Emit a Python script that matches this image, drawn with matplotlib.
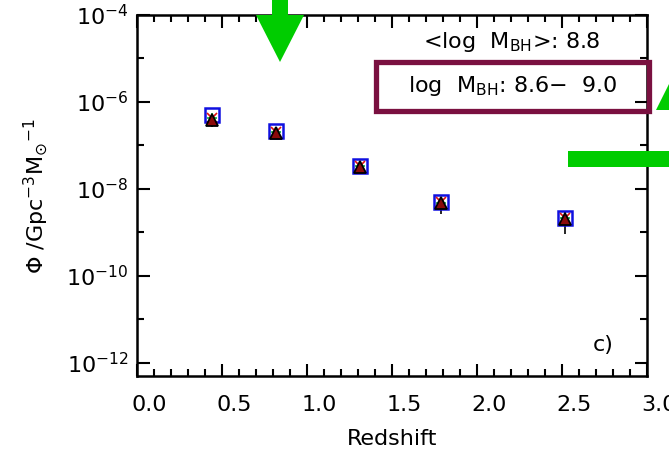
import numpy as np
import matplotlib
matplotlib.use('Agg')
import matplotlib.pyplot as plt
from matplotlib.ticker import LogLocator, LogFormatterMathtext, MultipleLocator, NullFormatter
from matplotlib.patches import Polygon, Rectangle
import matplotlib.transforms as mtransforms

# redshift bin centres and number densities (Gpc^-3 Msun^-1)
redshift = [0.44, 0.82, 1.31, 1.79, 2.52]
phi_square = [5.0e-7, 2.1e-7, 3.4e-8, 5.0e-9, 2.2e-9]
phi_dot = [4.3e-7, 2.0e-7, 3.3e-8, 4.8e-9, 2.1e-9]
phi_cross = [4.2e-7, 2.0e-7, 3.4e-8, 4.9e-9, 2.1e-9]
phi_tri = [3.8e-7, 1.9e-7, 3.2e-8, 4.7e-9, 2.0e-9]
err_lo = [1.2e-7, 4.0e-8, 8.0e-9, 2.0e-9, 1.1e-9]
err_hi = [1.2e-7, 4.0e-8, 8.0e-9, 2.0e-9, 1.1e-9]

mean_text = r'<log  M$_{\rm BH}$>: 8.8'
range_text = r'log  M$_{\rm BH}$: 8.6$-$  9.0'

plt.rcParams['font.family'] = ['DejaVu Sans']
plt.rcParams['mathtext.fontset'] = 'dejavusans'
plt.rcParams['mathtext.default'] = 'regular'

FS = 16

fig = plt.figure(figsize=(6.69, 4.51), dpi=100)
ax = fig.add_axes([137/669, 75/451, 510/669, 361/451])

ax.errorbar(redshift, phi_tri, yerr=[err_lo, err_hi], fmt='none',
            ecolor='black', elinewidth=1.2, capsize=0, zorder=2)
ax.plot(redshift, phi_square, 's', ms=9.5, mfc='none', mec='#1010e0', mew=1.8, zorder=3)
ax.plot(redshift, phi_dot, '+', ms=7, color='#10b040', mew=1.2, zorder=3)
ax.plot(redshift, phi_cross, 'x', ms=7, color='#e01010', mew=1.2, zorder=4)
ax.plot(redshift, phi_tri, '^', ms=8.5, mfc='#8b0a0a', mec='black', mew=1.3, zorder=5)

ax.set_yscale('log')
ax.set_xlim(0, 3.0)
ax.set_ylim(10**-12.3, 1e-4)

ax.xaxis.set_major_locator(MultipleLocator(0.5))
ax.xaxis.set_minor_locator(MultipleLocator(0.1))
ax.yaxis.set_major_locator(LogLocator(base=100.0, numticks=20))
ax.yaxis.set_minor_locator(LogLocator(base=10.0, subs=(1.0,), numticks=20))
ax.yaxis.set_major_formatter(LogFormatterMathtext(base=10))
ax.yaxis.set_minor_formatter(NullFormatter())
ax.xaxis.set_major_formatter(plt.FuncFormatter(lambda v, p: '{:.1f}'.format(v)))

ax.tick_params(which='both', direction='in', top=True, right=True,
               width=1.5, labelsize=FS)
ax.tick_params(which='major', length=9)
ax.tick_params(which='minor', length=5)
ax.tick_params(axis='x', pad=14)
ax.tick_params(axis='y', pad=6)
for lbl in ax.get_xticklabels():
    lbl.set_transform(lbl.get_transform() +
                      mtransforms.ScaledTranslation(0.12, 0, fig.dpi_scale_trans))
for s in ax.spines.values():
    s.set_linewidth(1.8)

ax.set_xlabel('Redshift', fontsize=FS, labelpad=10)
ax.set_ylabel(r'$\Phi$ /Gpc$^{-3}$M$_{\odot}$$^{-1}$', fontsize=FS, labelpad=12)

ax.text(0.735, 0.925, mean_text, transform=ax.transAxes, ha='center',
        va='center', fontsize=FS)
ax.text(0.737, 0.803, range_text, transform=ax.transAxes, ha='center',
        va='center', fontsize=FS)
ax.text(0.915, 0.085, 'c)', transform=ax.transAxes, ha='center',
        va='center', fontsize=FS)

# box round the mass range label, and the green arrows from the figure it was cut from
W, H = 669.0, 451.0
def fx(px):
    return px / W
def fy(py):
    return 1 - py / H

fig.patches.append(Rectangle((fx(375.5), fy(110.5)), fx(649) - fx(375.5),
                             fy(62.5) - fy(110.5), transform=fig.transFigure,
                             fill=False, ec='#7a1040', lw=3.8, zorder=10))
green = '#00cc00'
fig.patches.append(Polygon([(fx(272), fy(0)), (fx(288), fy(0)), (fx(288), fy(15)),
                            (fx(304), fy(15)), (fx(280), fy(62)), (fx(256), fy(15)),
                            (fx(272), fy(15))], closed=True, transform=fig.transFigure,
                           fc=green, ec='none', zorder=10))
fig.patches.append(Polygon([(fx(656), fy(110)), (fx(669), fy(84)), (fx(669), fy(110))],
                           closed=True, transform=fig.transFigure,
                           fc=green, ec='none', zorder=10))
fig.patches.append(Rectangle((fx(568), fy(167)), fx(669) - fx(568), fy(151) - fy(167),
                             transform=fig.transFigure, fc=green, ec='none', zorder=10))

fig.savefig('out.png', dpi=100)
